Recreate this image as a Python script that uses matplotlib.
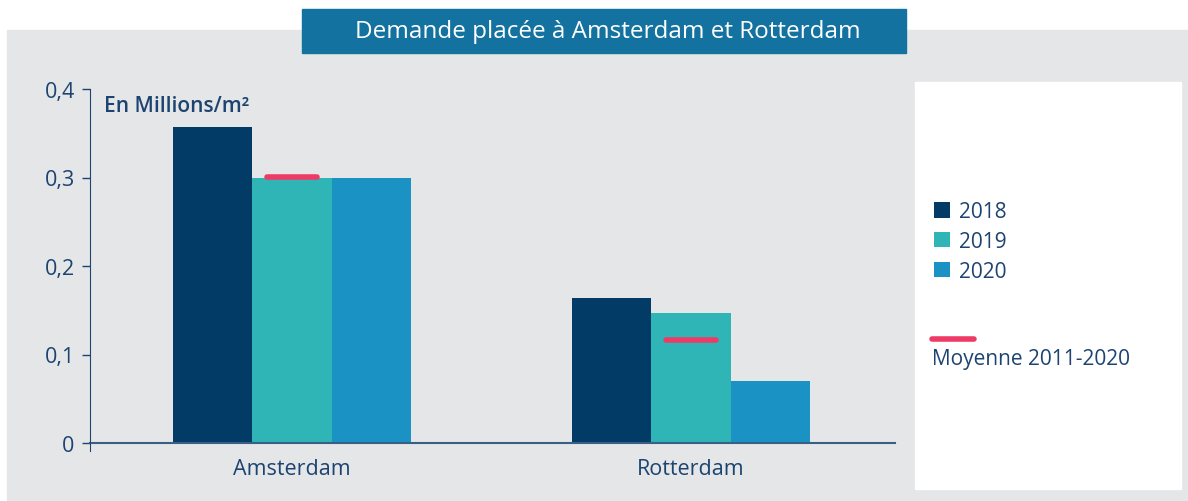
import numpy as np
import matplotlib.pyplot as plt
from matplotlib.patches import Rectangle, Patch
from matplotlib.lines import Line2D

# data
cities = ['Amsterdam', 'Rotterdam']
years = ['2018', '2019', '2020']
v2018 = [0.357, 0.164]
v2019 = [0.299, 0.147]
v2020 = [0.299, 0.070]
moyenne = [0.301, 0.116]
yticks = [0, 0.1, 0.2, 0.3, 0.4]
ytick_labels = ['0', '0,1', '0,2', '0,3', '0,4']

colors = ['#023B66', '#2FB5B6', '#1A93C4']
pink = '#EE3B66'
navy = '#1D4470'

plt.rcParams['font.family'] = ['Open Sans', 'DejaVu Sans']

fig = plt.figure(figsize=(11.88, 5.02), dpi=100)
W, H = 1188, 502

def px(x0, y0, x1, y1):
    # pixel box (top-left origin) -> figure fraction rect
    return (x0 / W, 1 - y1 / H, (x1 - x0) / W, (y1 - y0) / H)

# background panels
x, y, w, h = px(7, 31, 1188, 502)
fig.patches.append(Rectangle((x, y), w, h, transform=fig.transFigure, color='#E5E6E8', zorder=0))
x, y, w, h = px(915, 83, 1181, 490)
fig.patches.append(Rectangle((x, y), w, h, transform=fig.transFigure, color='white', zorder=1))
x, y, w, h = px(302, 10, 906, 54)
fig.patches.append(Rectangle((x, y), w, h, transform=fig.transFigure, color='#1472A0', zorder=2))
fig.text((302 + 906) / 2 / W + 0.003, 1 - 32 / H, 'Demande placée à Amsterdam et Rotterdam',
         color='white', fontsize=17.5, ha='center', va='center', zorder=3)

ax = fig.add_axes(px(90, 90, 895, 444), zorder=5)
ax.set_facecolor('none')

xpos = np.arange(len(cities))
bw = 0.199
for i, vals in enumerate([v2018, v2019, v2020]):
    ax.bar(xpos + (i - 1) * bw, vals, width=bw, color=colors[i], zorder=2)

ax.hlines(moyenne, xpos - 0.062, xpos + 0.062, color=pink, lw=4, capstyle='round', zorder=3)

ax.set_xlim(-0.506, 1.511)
ax.set_ylim(0, 0.4)
ax.set_yticks(yticks)
ax.set_yticklabels(ytick_labels)
ax.set_xticks(xpos)
ax.set_xticklabels(cities)
ax.tick_params(axis='x', length=0, pad=11, labelsize=15.5, labelcolor=navy)
ax.tick_params(axis='y', length=6, width=1, color=navy, pad=5, labelsize=15.5, labelcolor=navy)
for s in ['top', 'right']:
    ax.spines[s].set_visible(False)
ax.spines['left'].set_color(navy)
ax.spines['bottom'].set_color('#3A5F86')
ax.spines['bottom'].set_linewidth(1.5)
ax.spines['left'].set_bounds(-0.009, 0.4)
ax.spines['left'].set_zorder(4)

fig.text(104 / W, 1 - 106 / H, 'En Millions/m²', fontsize=15, fontweight='semibold',
         color=navy, va='center', ha='left', zorder=6)

# legend
handles = [Patch(facecolor=c, edgecolor='none') for c in colors]
leg = fig.legend(handles, years, loc='upper left', bbox_to_anchor=(926 / W, 1 - 194 / H),
                 frameon=False, fontsize=15, labelcolor=navy, handlelength=0.75, handleheight=0.75,
                 handletextpad=0.45, labelspacing=0.42, borderaxespad=0)
leg.set_zorder(6)
fig.lines.append(Line2D([932 / W, 974 / W], [1 - 340 / H] * 2, transform=fig.transFigure,
                        color=pink, lw=4, solid_capstyle='round', zorder=6))
fig.text(932 / W, 1 - 360 / H, 'Moyenne 2011-2020', color=navy, fontsize=15,
         va='center', ha='left', zorder=6)

fig.savefig('out.png', dpi=100)
